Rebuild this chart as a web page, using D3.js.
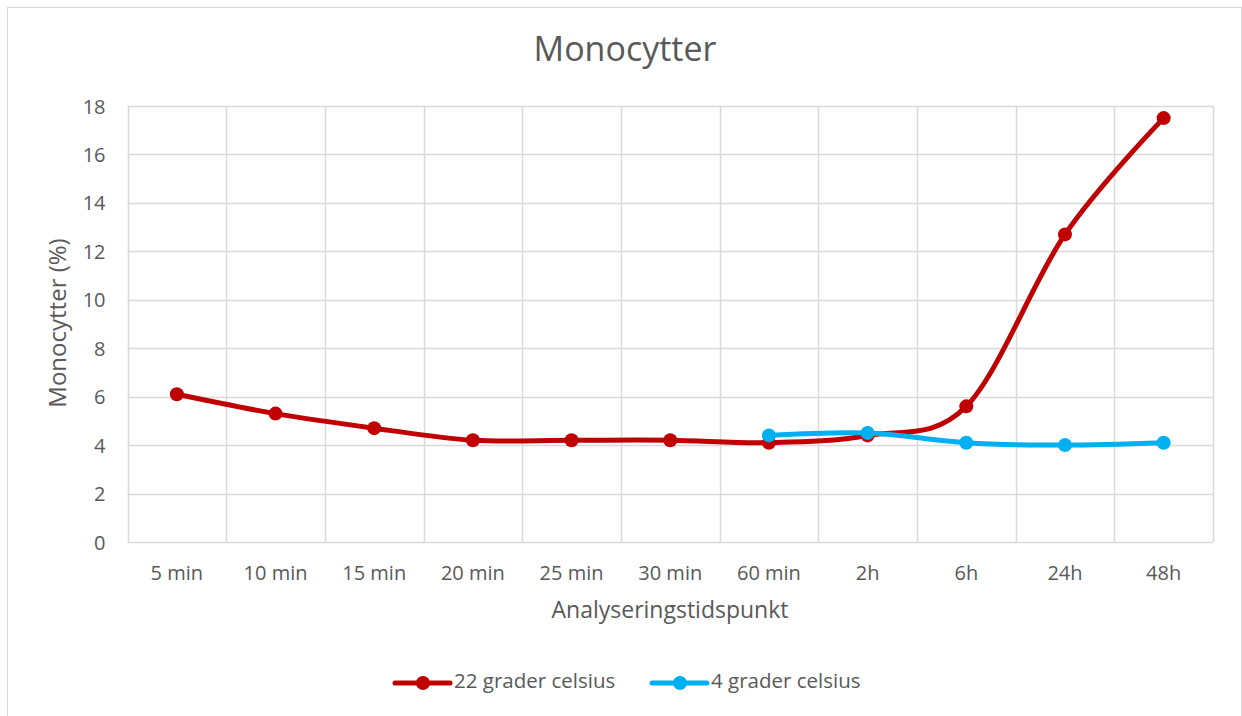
<!DOCTYPE html>
<html><head><meta charset="utf-8">
<script src="https://cdn.jsdelivr.net/npm/d3@7/dist/d3.min.js"></script>
<style>html,body{margin:0;padding:0;background:#fff;}svg{display:block;font-family:"Open Sans",sans-serif;}</style>
</head><body><svg id="c" width="1242" height="716"></svg>
<script>
const categories = ["5 min","10 min","15 min","20 min","25 min","30 min","60 min","2h","6h","24h","48h"];
const series22 = [6.1, 5.3, 4.7, 4.2, 4.2, 4.2, 4.1, 4.4, 5.6, 12.7, 17.5];
const series4 = [null, null, null, null, null, null, 4.4, 4.5, 4.1, 4.0, 4.1];
const yTicks = [0,2,4,6,8,10,12,14,16,18];
const seriesNames = ["22 grader celsius", "4 grader celsius"];
const colors = ["#c00000", "#00b0f0"];

const svg = d3.select("#c");
const m = {left:127.5, right:1213, top:106, bottom:542};

svg.append("rect").attr("x",7.5).attr("y",7.5).attr("width",1234).attr("height",720)
  .attr("fill","#fff").attr("stroke","#d9d9d9").attr("stroke-width",1);

const x = d3.scaleBand().domain(categories).range([m.left, m.right]);
const y = d3.scaleLinear().domain([0,18]).range([m.bottom, m.top]);

const g = svg.append("g");
g.selectAll(".hg").data(yTicks).enter().append("line")
  .attr("x1",m.left).attr("x2",m.right)
  .attr("y1",d=>Math.round(y(d))+0.5).attr("y2",d=>Math.round(y(d))+0.5)
  .attr("stroke","#d9d9d9").attr("stroke-width",1.5);
const bounds = categories.map(c=>x(c)).concat([m.right]);
g.selectAll(".vg").data(bounds).enter().append("line")
  .attr("x1",d=>Math.round(d)+0.5).attr("x2",d=>Math.round(d)+0.5)
  .attr("y1",m.top).attr("y2",m.bottom)
  .attr("stroke","#d9d9d9").attr("stroke-width",1.5);

const yAxis = d3.axisLeft(y).tickValues(yTicks).tickSize(0).tickPadding(0);
const ya = svg.append("g").attr("transform",`translate(${m.left-22},0)`).call(yAxis);
ya.select(".domain").remove();
ya.selectAll("text").attr("font-size",20).attr("fill","#595959").attr("font-family","'Open Sans',sans-serif").attr("dy","0.35em");

const xAxis = d3.axisBottom(x).tickSize(0).tickPadding(0);
const xa = svg.append("g").attr("transform",`translate(0,${m.bottom+31})`).call(xAxis);
xa.select(".domain").remove();
xa.selectAll("text").attr("font-size",20).attr("fill","#595959").attr("font-family","'Open Sans',sans-serif").attr("y",0).attr("dy","0.35em");

svg.append("text").attr("x",625).attr("y",52).attr("text-anchor","middle").attr("dominant-baseline","middle")
  .attr("font-size",34).attr("fill","#595959").text("Monocytter");
svg.append("text").attr("x",670).attr("y",612).attr("text-anchor","middle").attr("dominant-baseline","middle")
  .attr("font-size",23).attr("fill","#595959").text("Analyseringstidspunkt");
svg.append("text").attr("transform",`translate(60,323) rotate(-90)`).attr("text-anchor","middle").attr("dominant-baseline","middle")
  .attr("font-size",24).attr("fill","#595959").text("Monocytter (%)");

const cx = c => x(c) + x.bandwidth()/2;
const allSeries = [series22, series4];
allSeries.forEach((s,i)=>{
  const pts = categories.map((c,j)=>({c, v:s[j]})).filter(d=>d.v!=null);
  const line = d3.line().x(d=>cx(d.c)).y(d=>y(d.v)).curve(d3.curveCardinal.tension(0));
  svg.append("path").datum(pts).attr("d",line).attr("fill","none")
    .attr("stroke",colors[i]).attr("stroke-width",5).attr("stroke-linecap","round").attr("stroke-linejoin","round");
  svg.selectAll(".pt"+i).data(pts).enter().append("circle")
    .attr("cx",d=>cx(d.c)).attr("cy",d=>y(d.v)).attr("r",7).attr("fill",colors[i]);
});

const legX = [395, 652];
seriesNames.forEach((n,i)=>{
  const lg = svg.append("g").attr("transform",`translate(${legX[i]},683)`);
  lg.append("line").attr("x1",0).attr("x2",55).attr("y1",0).attr("y2",0)
    .attr("stroke",colors[i]).attr("stroke-width",5).attr("stroke-linecap","round");
  lg.append("circle").attr("cx",28).attr("cy",0).attr("r",7).attr("fill",colors[i]);
  lg.append("text").attr("x",59).attr("y",0).attr("dominant-baseline","middle")
    .attr("font-size",20.5).attr("fill","#595959").text(n);
});
</script></body></html>
